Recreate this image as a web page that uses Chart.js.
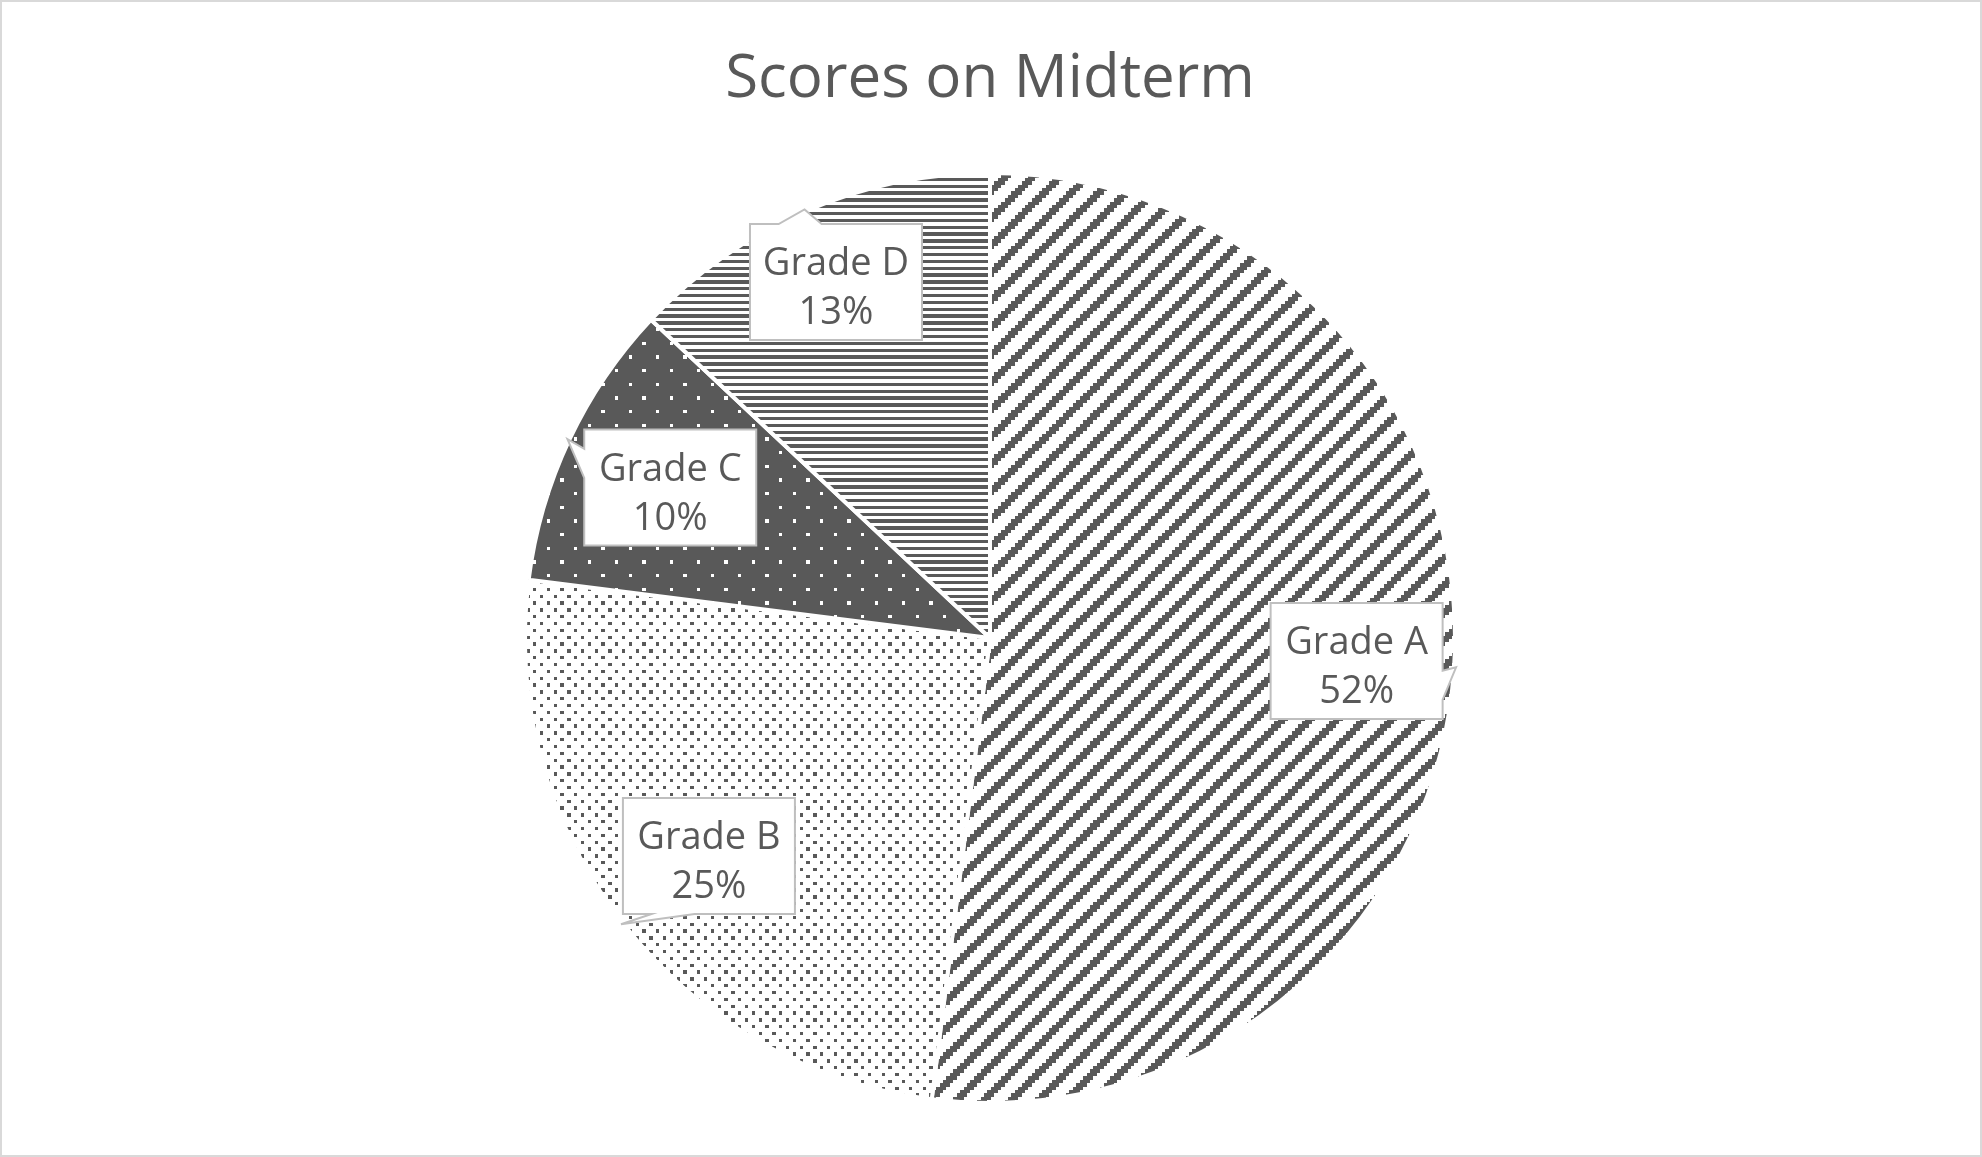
<!DOCTYPE html>
<html>
<head>
<meta charset="utf-8">
<script src="https://cdn.jsdelivr.net/npm/chart.js@4.4.1/dist/chart.umd.min.js"></script>
<style>
  html, body { margin: 0; padding: 0; background: #ffffff; }
  #wrap { position: relative; width: 1982px; height: 1157px; }
  canvas { display: block; }
</style>
</head>
<body>
<div id="wrap"><canvas id="c" width="1982" height="1157"></canvas></div>
<script>
// ---- data ----
const chartTitle = 'Scores on Midterm';
const categories = ['Grade A', 'Grade B', 'Grade C', 'Grade D'];
const scores = [52, 25, 10, 13];

// ---- style / layout (not data) ----
const patternKinds = ['upDiagonal', 'smallDots', 'darkDots', 'horizontal'];
const labelRadialFraction = [0.79, 0.765, 0.76, 0.834];
const INK = '#595959';
const FONT = '"Open Sans", "Liberation Sans", sans-serif';

function makePattern(kind) {
  const size = 82;          // 3 repeats of an 8x8 cell
  const u = size / 24;
  const cv = document.createElement('canvas');
  cv.width = size; cv.height = size;
  const g = cv.getContext('2d');
  const darkBg = kind === 'darkDots';
  g.fillStyle = darkBg ? INK : '#ffffff';
  g.fillRect(0, 0, size, size);
  g.fillStyle = darkBg ? '#ffffff' : INK;
  for (let y = 0; y < 24; y++) {
    for (let x = 0; x < 24; x++) {
      let on = false;
      if (kind === 'upDiagonal') on = ((x + y) % 8) < 3;
      else if (kind === 'smallDots') on = (y % 2 === 0) && ((x + (y % 4 === 2 ? 2 : 0)) % 4 === 0);
      else if (kind === 'darkDots') on = (y % 4 === 0) && ((x + (y % 8 === 4 ? 4 : 0)) % 8 === 0);
      else if (kind === 'horizontal') on = (y % 2 === 0);
      if (on) {
        const x0 = Math.round(x * u), x1 = Math.round((x + 1) * u);
        const y0 = Math.round(y * u), y1 = Math.round((y + 1) * u);
        g.fillRect(x0, y0, x1 - x0, y1 - y0);
      }
    }
  }
  return g.createPattern(cv, 'repeat');
}

function calloutPath(ctx, L, T, W, H, tx, ty) {
  const cx = L + W / 2, cy = T + H / 2;
  const dx = tx - cx, dy = ty - cy;
  const vert = Math.abs(dy) * W > Math.abs(dx) * H;
  const near = [2 / 12, 5 / 12], far = [7 / 12, 10 / 12];
  ctx.beginPath();
  ctx.moveTo(L, T);
  if (vert && dy < 0) { const a = dx > 0 ? far : near; ctx.lineTo(L + a[0] * W, T); ctx.lineTo(tx, ty); ctx.lineTo(L + a[1] * W, T); }
  ctx.lineTo(L + W, T);
  if (!vert && dx > 0) { const a = dy > 0 ? far : near; ctx.lineTo(L + W, T + a[0] * H); ctx.lineTo(tx, ty); ctx.lineTo(L + W, T + a[1] * H); }
  ctx.lineTo(L + W, T + H);
  if (vert && dy > 0) { const a = dx > 0 ? far : near; ctx.lineTo(L + a[1] * W, T + H); ctx.lineTo(tx, ty); ctx.lineTo(L + a[0] * W, T + H); }
  ctx.lineTo(L, T + H);
  if (!vert && dx < 0) { const a = dy > 0 ? far : near; ctx.lineTo(L, T + a[1] * H); ctx.lineTo(tx, ty); ctx.lineTo(L, T + a[0] * H); }
  ctx.closePath();
}

const framePlugin = {
  id: 'frame',
  beforeDraw(chart) {
    const ctx = chart.ctx;
    ctx.save();
    ctx.fillStyle = '#ffffff';
    ctx.fillRect(0, 0, chart.width, chart.height);
    ctx.strokeStyle = '#d9d9d9';
    ctx.lineWidth = 2;
    ctx.strokeRect(1, 1, chart.width - 2, chart.height - 2);
    ctx.restore();
  }
};

const calloutPlugin = {
  id: 'callouts',
  afterDatasetsDraw(chart) {
    const ctx = chart.ctx;
    const meta = chart.getDatasetMeta(0);
    const data = chart.data.datasets[0].data;
    const total = data.reduce((s, v) => s + v, 0);
    const W = 172, H = 116;
    ctx.save();
    meta.data.forEach((arc, i) => {
      const p = arc.getProps(['x', 'y', 'startAngle', 'endAngle', 'outerRadius'], true);
      const mid = (p.startAngle + p.endAngle) / 2;
      const r = p.outerRadius;
      const bx = p.x + Math.cos(mid) * r * labelRadialFraction[i];
      const by = p.y + Math.sin(mid) * r * labelRadialFraction[i];
      const tx = p.x + Math.cos(mid) * (r + 2);
      const ty = p.y + Math.sin(mid) * (r + 2);
      const L = bx - W / 2, T = by - H / 2;
      calloutPath(ctx, L, T, W, H, tx, ty);
      ctx.fillStyle = '#ffffff';
      ctx.fill();
      ctx.strokeStyle = '#bfbfbf';
      ctx.lineWidth = 2;
      ctx.lineJoin = 'miter';
      ctx.stroke();
      ctx.fillStyle = INK;
      ctx.font = '38px ' + FONT;
      ctx.textAlign = 'center';
      ctx.textBaseline = 'alphabetic';
      ctx.fillText(chart.data.labels[i], bx, T + 51);
      ctx.fillText(Math.round(data[i] / total * 100) + '%', bx, T + 100);
    });
    ctx.restore();
  }
};

function build() {
  const ctx = document.getElementById('c').getContext('2d');
  new Chart(ctx, {
    type: 'pie',
    data: {
      labels: categories,
      datasets: [{
        data: scores,
        backgroundColor: patternKinds.map(makePattern),
        borderColor: '#ffffff',
        borderWidth: 4
      }]
    },
    options: {
      responsive: false,
      devicePixelRatio: 1,
      animation: false,
      events: [],
      layout: { padding: { top: 44, bottom: 52, left: 0, right: 2 } },
      plugins: {
        legend: { display: false },
        tooltip: { enabled: false },
        title: {
          display: true,
          text: chartTitle,
          color: INK,
          font: { family: FONT, size: 60, weight: 'normal', lineHeight: 1.2 },
          padding: { top: 0, bottom: 55 }
        }
      }
    },
    plugins: [framePlugin, calloutPlugin]
  });
}

Promise.all([
  document.fonts.load('60px "Open Sans"'),
  document.fonts.load('38px "Open Sans"')
]).then(build, build);
</script>
</body>
</html>
